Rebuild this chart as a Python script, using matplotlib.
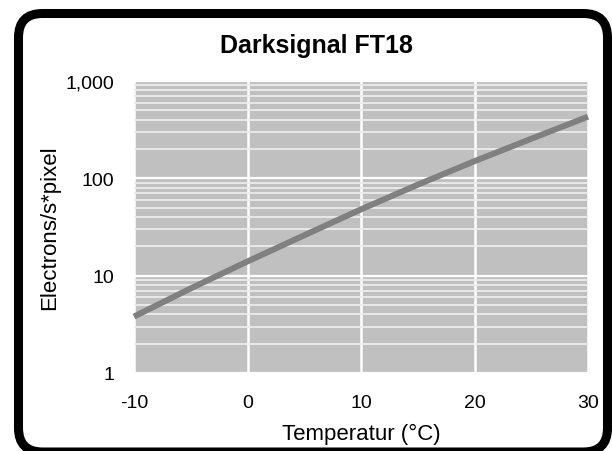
#!/usr/bin/env python3
''' Plot dark signal of FT18 vs temperature
'''

#
# import statements
#

import numpy as np
import matplotlib
matplotlib.use('Agg')
from matplotlib import pyplot
from matplotlib.patches import FancyBboxPatch
from matplotlib.ticker import FixedLocator, LogLocator, NullFormatter

#
# data
#

temperature = [-10, -5, 0, 5, 10, 15, 20, 25, 30]
darksignal = [3.8, 7.4, 14, 26, 48, 86, 150, 255, 430]

x_ticks = [-10, 0, 10, 20, 30]
y_ticks = [1, 10, 100, 1000]
y_ticklabels = ['1', '10', '100', '1,000']

#
# main
#

if __name__ == '__main__':

    pyplot.rcParams['font.family'] = ['Liberation Sans', 'DejaVu Sans']
    pyplot.rcParams['axes.unicode_minus'] = False

    W, H = 612, 452
    fig = pyplot.figure(figsize=(W / 100, H / 100), dpi=100)

    # background axes in pixel units for the rounded frame
    bg = fig.add_axes([0, 0, 1, 1])
    bg.set_xlim(0, W)
    bg.set_ylim(H, 0)
    bg.axis('off')
    frame = FancyBboxPatch((18.5, 14.5), 589, 438.5,
        boxstyle='round,pad=0,rounding_size=24',
        facecolor='white', edgecolor='black', linewidth=6.5)
    bg.add_patch(frame)

    # main plot
    ax = fig.add_axes([134 / W, 1 - 374 / H, 454 / W, 292 / H])
    ax.set_facecolor('#c0c0c0')
    ax.set_yscale('log')
    ax.set_xlim(-10, 30)
    ax.set_ylim(1, 1000)

    ax.xaxis.set_major_locator(FixedLocator(x_ticks))
    ax.set_yticks(y_ticks)
    ax.set_yticklabels(y_ticklabels)
    ax.yaxis.set_minor_locator(LogLocator(base=10, subs=np.arange(2, 10)))
    ax.yaxis.set_minor_formatter(NullFormatter())

    for s in ax.spines.values():
        s.set_visible(False)
    ax.tick_params(which='both', length=0)
    ax.tick_params(axis='x', pad=15, labelsize=14)
    ax.tick_params(axis='y', pad=14, labelsize=14)

    # gridlines
    ax.set_axisbelow(True)
    ax.grid(axis='y', which='major', color='white', lw=1.6)
    ax.grid(axis='y', which='minor', color='#ececec', lw=1.3)
    ax.grid(axis='x', which='major', color='white', lw=1.8)

    ax.plot(temperature, darksignal, color='#808080', lw=4.3,
        solid_capstyle='butt', clip_on=False)

    ax.set_xlabel('Temperatur (°C)', fontsize=16, labelpad=9)
    ax.set_ylabel('Electrons/s*pixel', fontsize=16, labelpad=4)
    fig.text(316 / W, 1 - 46 / H, 'Darksignal FT18', ha='center',
        va='center', fontsize=18, fontweight='bold')

    fig.savefig('out.png', dpi=100)
